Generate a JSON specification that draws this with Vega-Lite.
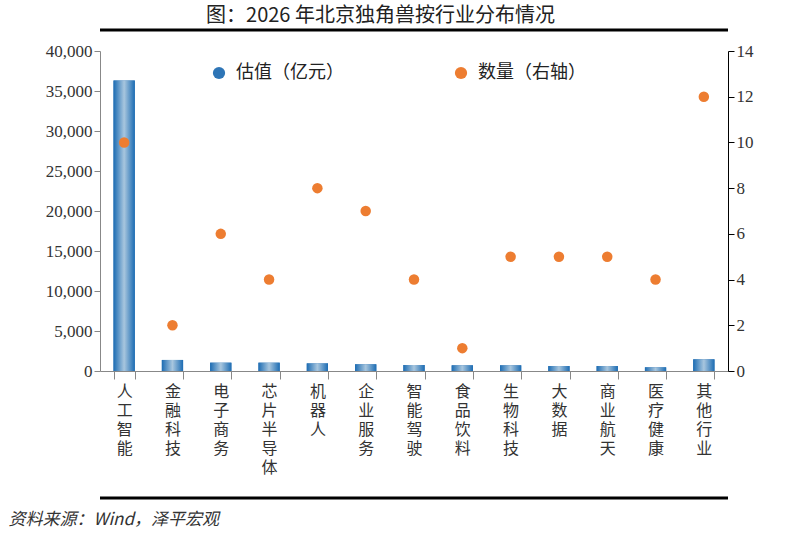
{
  "$schema": "https://vega.github.io/schema/vega-lite/v6.json",
  "width": 628,
  "height": 320,
  "autosize": {"type": "none"},
  "padding": {"left": 100, "top": 51, "right": 62, "bottom": 163},
  "background": "white",
  "title": {
    "text": "图：2026 年北京独角兽按行业分布情况",
    "anchor": "middle",
    "frame": "bounds",
    "font": "Noto Sans CJK SC",
    "fontSize": 20,
    "fontWeight": "normal",
    "color": "#222222",
    "offset": 3
  },
  "datasets": {
    "unicorns": [
      {"industry": "人工智能", "value": 36300, "count": 10},
      {"industry": "金融科技", "value": 1380, "count": 2},
      {"industry": "电子商务", "value": 1040, "count": 6},
      {"industry": "芯片半导体", "value": 1040, "count": 4},
      {"industry": "机器人", "value": 950, "count": 8},
      {"industry": "企业服务", "value": 840, "count": 7},
      {"industry": "智能驾驶", "value": 750, "count": 4},
      {"industry": "食品饮料", "value": 710, "count": 1},
      {"industry": "生物科技", "value": 710, "count": 5},
      {"industry": "大数据", "value": 620, "count": 5},
      {"industry": "商业航天", "value": 620, "count": 5},
      {"industry": "医疗健康", "value": 460, "count": 4},
      {"industry": "其他行业", "value": 1460, "count": 12}
    ],
    "frame": [{}]
  },
  "data": {"name": "unicorns"},
  "layer": [
    {
      "layer": [
        {
          "mark": {"type": "bar"},
          "encoding": {
            "x": {
              "field": "industry",
              "type": "nominal",
              "sort": null,
              "scale": {"paddingInner": 0.56, "paddingOuter": 0.28},
              "axis": {
                "title": "资料来源：Wind，泽平宏观",
                "labelAngle": 0,
                "labelExpr": "split(datum.label, '')",
                "labelFont": "Noto Sans CJK SC",
                "labelFontSize": 16,
                "labelLineHeight": 19,
                "labelBaseline": "top",
                "labelPadding": 4,
                "labelColor": "#333333",
                "domainColor": "#888888",
                "tickColor": "#888888",
                "tickBand": "extent",
                "tickSize": 8,
                "titleFont": "Noto Sans CJK SC",
                "titleFontStyle": "italic",
                "titleFontWeight": "normal",
                "titleFontSize": 17,
                "titleColor": "#333333",
                "titleAnchor": "start",
                "titleAlign": "left",
                "titleBaseline": "middle",
                "titleX": -92,
                "titleY": 148
              }
            },
            "y": {
              "field": "value",
              "type": "quantitative",
              "scale": {"domain": [0, 40000], "nice": false},
              "axis": {
                "orient": "left",
                "title": null,
                "values": [0, 5000, 10000, 15000, 20000, 25000, 30000, 35000, 40000],
                "format": ",.0f",
                "grid": false,
                "labelFont": "Liberation Serif",
                "labelFontSize": 17,
                "labelColor": "#333333",
                "domainColor": "#888888",
                "tickColor": "#888888",
                "tickSize": 6
              }
            },
            "color": {"datum": "估值（亿元）"}
          }
        },
        {
          "mark": {
            "type": "bar",
            "color": {
              "gradient": "linear",
              "x1": 0, "y1": 0, "x2": 1, "y2": 0,
              "stops": [
                {"offset": 0, "color": "#1c6cb3"},
                {"offset": 0.5, "color": "#a8c6de"},
                {"offset": 1, "color": "#1c6cb3"}
              ]
            }
          },
          "encoding": {
            "x": {"field": "industry", "type": "nominal", "sort": null},
            "y": {
              "field": "value",
              "type": "quantitative",
              "axis": {
                "orient": "left",
                "title": null,
                "values": [0, 5000, 10000, 15000, 20000, 25000, 30000, 35000, 40000],
                "format": ",.0f",
                "grid": false,
                "labelFont": "Liberation Serif",
                "labelFontSize": 17,
                "labelColor": "#333333",
                "domainColor": "#888888",
                "tickColor": "#888888",
                "tickSize": 6
              }
            }
          }
        },
        {
          "data": {"name": "frame"},
          "mark": {"type": "rule", "strokeWidth": 3, "color": "black"},
          "encoding": {
            "y": {
              "datum": 42625,
              "type": "quantitative",
              "axis": {
                "orient": "left",
                "title": null,
                "values": [0, 5000, 10000, 15000, 20000, 25000, 30000, 35000, 40000],
                "format": ",.0f",
                "grid": false,
                "labelFont": "Liberation Serif",
                "labelFontSize": 17,
                "labelColor": "#333333",
                "domainColor": "#888888",
                "tickColor": "#888888",
                "tickSize": 6
              }
            }
          }
        },
        {
          "data": {"name": "frame"},
          "mark": {"type": "rule", "strokeWidth": 3, "color": "black"},
          "encoding": {
            "y": {
              "datum": -15875,
              "type": "quantitative",
              "axis": {
                "orient": "left",
                "title": null,
                "values": [0, 5000, 10000, 15000, 20000, 25000, 30000, 35000, 40000],
                "format": ",.0f",
                "grid": false,
                "labelFont": "Liberation Serif",
                "labelFontSize": 17,
                "labelColor": "#333333",
                "domainColor": "#888888",
                "tickColor": "#888888",
                "tickSize": 6
              }
            }
          }
        }
      ]
    },
    {
      "mark": {"type": "point", "filled": true, "opacity": 1, "size": 110},
      "encoding": {
        "x": {"field": "industry", "type": "nominal", "sort": null},
        "y": {
          "field": "count",
          "type": "quantitative",
          "scale": {"domain": [0, 14], "nice": false},
          "axis": {
            "orient": "right",
            "title": null,
            "values": [0, 2, 4, 6, 8, 10, 12, 14],
            "grid": false,
            "labelFont": "Liberation Serif",
            "labelFontSize": 17,
            "labelColor": "#333333",
            "domainColor": "#000000",
            "tickColor": "#000000",
            "tickSize": 6
          }
        },
        "color": {
          "datum": "数量（右轴）",
          "scale": {
            "domain": ["估值（亿元）", "数量（右轴）"],
            "range": ["#2e75b6", "#ed7d31"]
          },
          "legend": {
            "title": null,
            "orient": "none",
            "legendX": 110,
            "legendY": 13,
            "direction": "horizontal",
            "columnPadding": 108,
            "labelFont": "Noto Sans CJK SC",
            "labelFontSize": 18,
            "labelColor": "#222222",
            "labelOffset": 8,
            "symbolSize": 150,
            "symbolStrokeWidth": 0
          }
        }
      }
    }
  ],
  "resolve": {"scale": {"y": "independent"}},
  "config": {
    "view": {"stroke": null},
    "axis": {"labelFontWeight": "normal"}
  }
}
